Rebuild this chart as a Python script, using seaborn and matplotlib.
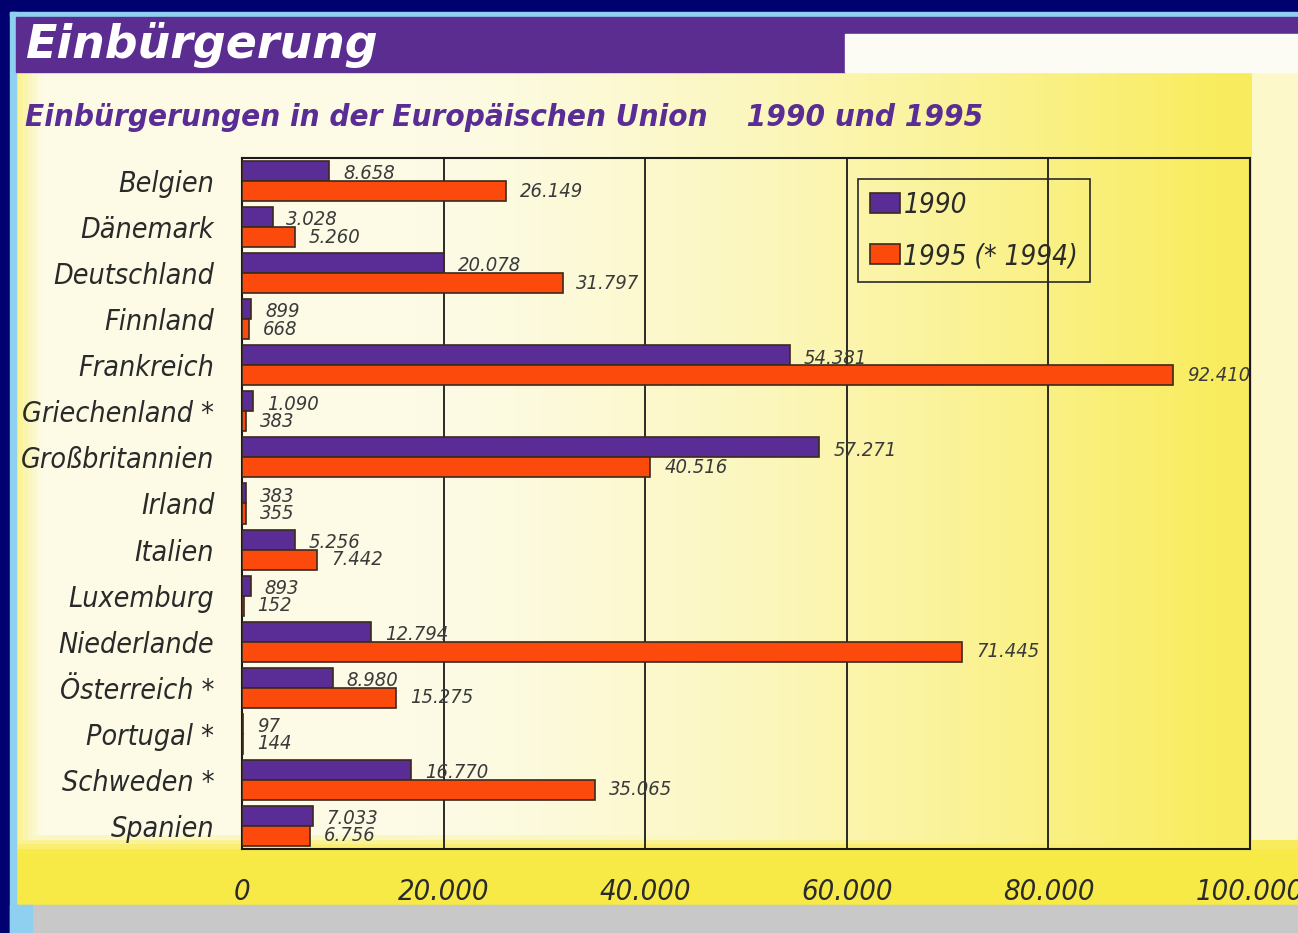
import numpy as np
import pandas as pd
import matplotlib
matplotlib.use('Agg')
import matplotlib.pyplot as plt
from matplotlib import font_manager
from matplotlib.patches import Rectangle
import seaborn as sns

# Daten: Einbürgerungen in der EU 1990 und 1995 (* 1994)
laender = ['Belgien', 'Dänemark', 'Deutschland', 'Finnland', 'Frankreich',
           'Griechenland *', 'Großbritannien', 'Irland', 'Italien', 'Luxemburg',
           'Niederlande', 'Österreich *', 'Portugal *', 'Schweden *', 'Spanien']
werte_1990 = [8658, 3028, 20078, 899, 54381, 1090, 57271, 383, 5256, 893,
              12794, 8980, 97, 16770, 7033]
werte_1995 = [26149, 5260, 31797, 668, 92410, 383, 40516, 355, 7442, 152,
              71445, 15275, 144, 35065, 6756]
jahre = ['1990', '1995 (* 1994)']
xticks = [0, 20000, 40000, 60000, 80000, 100000]

df = pd.DataFrame({
    'Land': laender * 2,
    'Jahr': [jahre[0]] * len(laender) + [jahre[1]] * len(laender),
    'Wert': werte_1990 + werte_1995,
})

def de(v):
    return f'{v:,}'.replace(',', '.')

sns.set_style('white')

# schmale Schrift suchen
namen = {f.name for f in font_manager.fontManager.ttflist}
if 'Liberation Sans Narrow' in namen:
    schrift = ['Liberation Sans Narrow', 'DejaVu Sans']
    breite = 'normal'
else:
    schrift = ['DejaVu Sans']
    breite = 'condensed'
plt.rcParams['font.family'] = schrift
plt.rcParams['font.stretch'] = breite

lila = '#5a2d96'
orange = '#fb4a0c'
grau = '#3a3a3a'

fig = plt.figure(figsize=(12.98, 9.33), dpi=100)

# Hintergrund (Papierfarbe, Verlauf creme -> gelb)
bg = fig.add_axes([0, 0, 1, 1], zorder=-10)
H, W = 200, 280
yy, xx = np.mgrid[0:H, 0:W]
xf = xx / (W - 1)
yf = yy / (H - 1)
t = np.clip((xf - 0.32) / 0.62, 0, 1) ** 1.4 * 0.85
t = np.maximum(t, np.clip((yf - 0.895) / 0.02, 0, 1))
t = np.maximum(t, np.clip((0.03 - xf) / 0.02, 0, 1) * 0.6)
t = np.where((xf > 0.965) & (yf < 0.9), t * 0.2, t)
creme = np.array([253, 251, 230]) / 255
gelb = np.array([248, 234, 70]) / 255
img = creme[None, None, :] * (1 - t[..., None]) + gelb[None, None, :] * t[..., None]
bg.imshow(img, aspect='auto', extent=[0, 1, 0, 1], origin='upper')
bg.set_xlim(0, 1)
bg.set_ylim(0, 1)
bg.axis('off')

# Rahmen
def px_rect(x0, y0, x1, y1, color, z=-5):
    fig.patches.append(Rectangle((x0 / 1298, 1 - y1 / 933), (x1 - x0) / 1298,
                                 (y1 - y0) / 933, transform=fig.transFigure,
                                 color=color, zorder=z))

px_rect(0, 0, 1298, 12, '#00006e')
px_rect(0, 0, 10, 933, '#00006e')
px_rect(10, 12, 1298, 16, '#8fd0f0')
px_rect(10, 12, 16, 933, '#8fd0f0')
px_rect(16, 905, 1298, 933, '#c8c8c8')
px_rect(10, 905, 32, 933, '#8fd0f0')
px_rect(16, 17, 845, 72, '#5c2d91')
px_rect(845, 17, 1298, 34, '#5c2d91')
px_rect(845, 34, 1298, 72, '#fdfcf4')

fig.text(25 / 1298, 1 - 45 / 933, 'Einbürgerung', color='white',
         fontsize=33, fontweight='bold', fontstyle='italic', va='center',
         fontstretch='normal')
fig.text(25 / 1298, 1 - 117 / 933,
         'Einbürgerungen in der Europäischen Union    1990 und 1995',
         color=lila, fontsize=22.5, fontweight='bold', fontstyle='italic',
         va='center')

ax = fig.add_axes([242 / 1298, 1 - 849 / 933, 1008 / 1298, 691 / 933])
ax.patch.set_alpha(0)

sns.barplot(data=df, y='Land', x='Wert', hue='Jahr', orient='h',
            palette=[lila, orange], width=0.87, gap=0, edgecolor='#3b2a1e',
            linewidth=1.2, saturation=1, ax=ax, zorder=3)

for cont, werte, dy in zip(ax.containers, [werte_1990, werte_1995], [-2, 0]):
    for bar, v in zip(cont, werte):
        ax.annotate(de(v), (bar.get_width(), bar.get_y() + bar.get_height() / 2),
                    xytext=(10, dy), textcoords='offset points', va='center',
                    ha='left', fontsize=14.5, fontstyle='italic', color=grau,
                    zorder=5)

ax.set_xlim(0, 100000)
ax.set_xticks(xticks)
ax.set_xticklabels([de(v) for v in xticks], fontsize=21, fontstyle='italic',
                   color='#2a2a2a')
ax.set_yticks(range(len(laender)))
ax.set_yticklabels(laender, fontsize=20.5, fontstyle='italic', color='#2a2a2a')
ax.tick_params(axis='x', length=0, pad=21)
ax.tick_params(axis='y', length=0, pad=20)
ax.set_xlabel('')
ax.set_ylabel('')
ax.grid(axis='x', color='#1a1a1a', linewidth=1.3, zorder=0)
ax.grid(axis='y', visible=False)
ax.set_axisbelow(True)
for s in ax.spines.values():
    s.set_visible(True)
    s.set_color('#1a1a1a')
    s.set_linewidth(1.5)

handles, _ = ax.get_legend_handles_labels()
leg = ax.legend(handles, jahre, loc='upper left', bbox_to_anchor=(0.611, 0.970),
                frameon=True, fancybox=False, edgecolor='#2a2a2a', facecolor='none',
                framealpha=1, prop={'size': 20, 'style': 'italic', 'stretch': breite},
                handlelength=1.08, handleheight=0.72, handletextpad=0.12,
                labelspacing=0.83, borderpad=0.44, borderaxespad=0)
leg.get_frame().set_linewidth(1.2)
for t_ in leg.get_texts():
    t_.set_color('#2a2a2a')

fig.savefig('out.png', dpi=100)
